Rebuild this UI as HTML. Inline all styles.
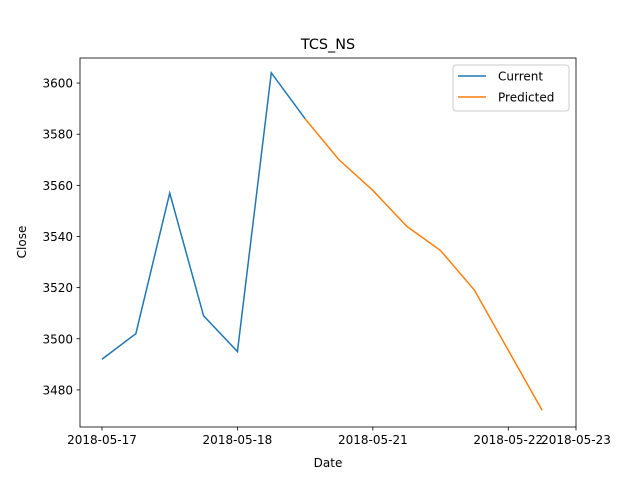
<!DOCTYPE html>
<html><head><meta charset="utf-8"><style>body{margin:0;background:#fff}svg{display:block;font-family:"DejaVu Sans","Liberation Sans",sans-serif}</style></head>
<body>
<svg id="chart" width="640" height="480"></svg>
<script>
const xTickIdx=[0,4,8,12,14];
const xTickLabels=["2018-05-17","2018-05-18","2018-05-21","2018-05-22","2018-05-23"];
const yTicks=[3480,3500,3520,3540,3560,3580,3600];
const currentIdx=[0,1,2,3,4,5,6];
const currentVals=[3492,3502,3557,3509,3495,3604,3586];
const predIdx=[6,7,8,9,10,11,12,13];
const predVals=[3586,3570,3558,3544,3534.5,3519,3495.5,3472];
const L=80,R=576,T=58,B=427,x0=-0.65,x1=14,y0=3465.5,y1=3609.8;
const X=i=>L+(i-x0)/(x1-x0)*(R-L);
const Y=v=>B-(v-y0)/(y1-y0)*(B-T);
const svg=document.getElementById('chart');
const NS='http://www.w3.org/2000/svg';
function mk(t,a,p){const e=document.createElementNS(NS,t);for(const k in a)e.setAttribute(k,a[k]);(p||svg).appendChild(e);return e;}
const frame=mk('rect',{x:L,y:T,width:R-L,height:B-T,fill:'none',stroke:'#000','stroke-width':0.8});


xTickIdx.forEach((ix,k)=>{const g=mk('g',{});


mk('line',{x1:X(ix),x2:X(ix),y1:B,y2:B+3.5,stroke:'#000','stroke-width':0.8},g);
const t=mk('text',{x:X(ix),y:B+17,'text-anchor':'middle','font-size':12},g);t.textContent=xTickLabels[k];});
yTicks.forEach(v=>{const g=mk('g',{});


mk('line',{x1:L-3.5,x2:L,y1:Y(v),y2:Y(v),stroke:'#000','stroke-width':0.8},g);
const t=mk('text',{x:L-7,y:Y(v)+4.5,'text-anchor':'end','font-size':12},g);t.textContent=v;});
function line(idx,vals,c,n){const p=mk('polyline',{points:idx.map((ix,k)=>X(ix)+','+Y(vals[k])).join(' '),fill:'none',stroke:c,'stroke-width':1.5});

}
line(currentIdx,currentVals,'#1f77b4','current-line');
line(predIdx,predVals,'#ff7f0e','predicted-line');
let t=mk('text',{x:328,y:49,'text-anchor':'middle','font-size':14.4});t.textContent='TCS_NS';


t=mk('text',{x:328,y:467,'text-anchor':'middle','font-size':12});t.textContent='Date';


t=mk('text',{x:26,y:242,'text-anchor':'middle','font-size':12,transform:'rotate(-90 26 242)'});t.textContent='Close';


const lg=mk('g',{});


mk('rect',{x:453,y:65,width:116,height:46,rx:3,fill:'#fff',stroke:'#ccc'},lg);
[['Current','#1f77b4'],['Predicted','#ff7f0e']].forEach((e,k)=>{const y=76+k*21;
mk('line',{x1:458,x2:486,y1:y,y2:y,stroke:e[1],'stroke-width':1.5},lg);
const tt=mk('text',{x:498,y:y+4.5,'font-size':12},lg);tt.textContent=e[0];});
</script>
</body></html>
